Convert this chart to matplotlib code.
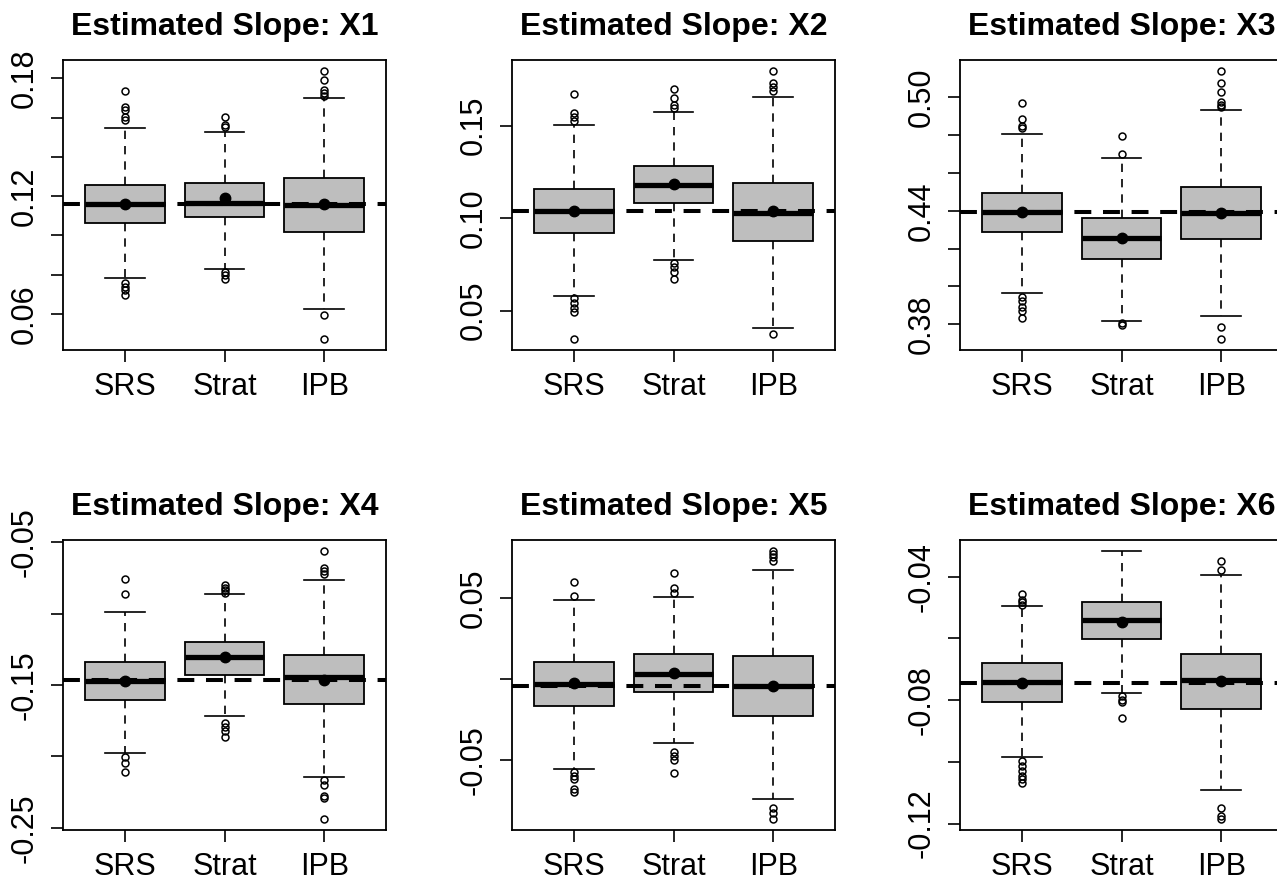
import numpy as np
import matplotlib
matplotlib.use("Agg")
import matplotlib.pyplot as plt

plt.rcParams['font.family'] = ['Liberation Sans', 'DejaVu Sans']

methods = ["SRS", "Strat", "IPB"]
titles = ["Estimated Slope: X1", "Estimated Slope: X2", "Estimated Slope: X3",
          "Estimated Slope: X4", "Estimated Slope: X5", "Estimated Slope: X6"]

# box summaries per panel, one value per method (SRS, Strat, IPB)
q1 = [[0.1063, 0.1095, 0.1016],
      [0.0922, 0.1080, 0.0875],
      [0.4285, 0.4144, 0.4248],
      [-0.1602, -0.1428, -0.1635],
      [-0.0167, -0.0083, -0.0228],
      [-0.0805, -0.0603, -0.0828]]
med = [[0.1160, 0.1167, 0.1155],
       [0.1039, 0.1179, 0.1030],
       [0.4392, 0.4255, 0.4390],
       [-0.1472, -0.1307, -0.1444],
       [-0.0034, 0.0028, -0.0044],
       [-0.0742, -0.0541, -0.0735]]
q3 = [[0.1257, 0.1269, 0.1291],
      [0.1156, 0.1284, 0.1192],
      [0.4496, 0.4360, 0.4526],
      [-0.1340, -0.1202, -0.1288],
      [0.0103, 0.0154, 0.0140],
      [-0.0680, -0.0482, -0.0649]]
whislo = [[0.0781, 0.0831, 0.0627],
          [0.0581, 0.0776, 0.0406],
          [0.3966, 0.3818, 0.3841],
          [-0.1977, -0.1719, -0.2142],
          [-0.0559, -0.0398, -0.0745],
          [-0.0985, -0.0776, -0.1090]]
whishi = [[0.1547, 0.1525, 0.1698],
          [0.1504, 0.1576, 0.1653],
          [0.4804, 0.4678, 0.4931],
          [-0.0988, -0.0865, -0.0765],
          [0.0486, 0.0506, 0.0674],
          [-0.0494, -0.0316, -0.0395]]
means = [[0.1160, 0.1189, 0.1160],
         [0.1039, 0.1185, 0.1039],
         [0.4392, 0.4255, 0.4390],
         [-0.1472, -0.1307, -0.1467],
         [-0.0026, 0.0038, -0.0044],
         [-0.0746, -0.0546, -0.0738]]
fliers = [
    [[0.1737, 0.1656, 0.1639, 0.1605, 0.1588, 0.0756, 0.0739, 0.0722, 0.0696],
     [0.1605, 0.1562, 0.1550, 0.0815, 0.0798, 0.0776],
     [0.1839, 0.1792, 0.1741, 0.1724, 0.1710, 0.0595, 0.0471]],
    [[0.1669, 0.1570, 0.1545, 0.1527, 0.0567, 0.0540, 0.0513, 0.0490, 0.0345],
     [0.1696, 0.1651, 0.1612, 0.1594, 0.0759, 0.0738, 0.0711, 0.0670],
     [0.1797, 0.1729, 0.1707, 0.1689, 0.0374]],
    [[0.4968, 0.4887, 0.4848, 0.4836, 0.3946, 0.3920, 0.3893, 0.3870, 0.3835],
     [0.4796, 0.4702, 0.3805, 0.3797],
     [0.5141, 0.5078, 0.5030, 0.4977, 0.4959, 0.4950, 0.3784, 0.3720]],
    [[-0.0758, -0.0863, -0.2002, -0.2044, -0.2109],
     [-0.0800, -0.0819, -0.0835, -0.0853, -0.1765, -0.1793, -0.1823, -0.1863],
     [-0.0560, -0.0684, -0.0700, -0.0723, -0.2165, -0.2202, -0.2277, -0.2288, -0.2440]],
    [[0.0598, 0.0514, -0.0578, -0.0598, -0.0618, -0.0684, -0.0700],
     [0.0655, 0.0563, 0.0529, -0.0455, -0.0480, -0.0500, -0.0582],
     [0.0792, 0.0772, 0.0752, 0.0731, -0.0797, -0.0827, -0.0868]],
    [[-0.0456, -0.0474, -0.0483, -0.0491, -0.0997, -0.1013, -0.1029, -0.1045, -0.1056, -0.1069],
     [-0.0787, -0.0798, -0.0806, -0.0857],
     [-0.0350, -0.0377, -0.1151, -0.1175, -0.1186]],
]
# true slope values (dashed reference)
truth = [0.1160, 0.1039, 0.4392, -0.1467, -0.0044, -0.0744]

yticks = [[0.06, 0.08, 0.10, 0.12, 0.14, 0.16, 0.18],
          [0.05, 0.10, 0.15],
          [0.38, 0.40, 0.42, 0.44, 0.46, 0.48, 0.50],
          [-0.25, -0.20, -0.15, -0.10, -0.05],
          [-0.05, 0.00, 0.05],
          [-0.12, -0.10, -0.08, -0.06, -0.04]]
ylabels = [["0.06", "", "", "0.12", "", "", "0.18"],
           ["0.05", "0.10", "0.15"],
           ["0.38", "", "", "0.44", "", "", "0.50"],
           ["-0.25", "", "-0.15", "", "-0.05"],
           ["-0.05", "", "0.05"],
           ["-0.12", "", "-0.08", "", "-0.04"]]

W, H = 1277, 882
fig = plt.figure(figsize=(W / 100, H / 100), dpi=100)

col_left = [63, 512, 960]
row_top = [60, 540]
ax_w, ax_h = 323, 290

for i in range(6):
    r, c = divmod(i, 3)
    ax = fig.add_axes([col_left[c] / W, 1 - (row_top[r] + ax_h) / H, ax_w / W, ax_h / H])

    stats = []
    for j in range(3):
        stats.append(dict(med=med[i][j], q1=q1[i][j], q3=q3[i][j],
                          whislo=whislo[i][j], whishi=whishi[i][j],
                          mean=means[i][j], fliers=fliers[i][j], label=methods[j]))

    ax.bxp(stats, positions=[1, 2, 3], widths=0.8, capwidths=0.4,
           patch_artist=True, showmeans=True,
           boxprops=dict(facecolor='#BEBEBE', edgecolor='black', linewidth=1.3),
           medianprops=dict(color='black', linewidth=3.8, solid_capstyle='butt'),
           whiskerprops=dict(color='black', linewidth=1.2, linestyle=(0, (5, 4.2))),
           capprops=dict(color='black', linewidth=1.2),
           flierprops=dict(marker='o', markerfacecolor='none', markeredgecolor='black',
                           markersize=5, markeredgewidth=1.1),
           meanprops=dict(marker='o', markerfacecolor='black', markeredgecolor='black',
                          markersize=7.5, zorder=6))

    ax.axhline(truth[i], color='black', linewidth=2.9, linestyle=(0, (4.2, 2.9)), zorder=5)

    # y range: data range padded by 4%
    allv = [v for j in range(3) for v in fliers[i][j] + [whislo[i][j], whishi[i][j]]]
    lo, hi = min(allv), max(allv)
    pad = 0.04 * (hi - lo)
    ax.set_ylim(lo - pad, hi + pad)
    ax.set_xlim(0.38, 3.62)

    ax.set_yticks(yticks[i])
    ax.set_yticklabels(ylabels[i])
    ax.set_xticks([1, 2, 3])
    ax.set_xticklabels(methods)
    ax.tick_params(axis='both', direction='out', length=8.6, width=1.2,
                   labelsize=22, colors='black')
    ax.tick_params(axis='y', labelrotation=90, pad=8)
    ax.tick_params(axis='x', pad=7)
    for lab in ax.get_yticklabels():
        lab.set_va('center')
    for s in ax.spines.values():
        s.set_linewidth(1.3)

    ax.set_title(titles[i], fontsize=23, fontweight='bold', pad=18)

fig.savefig("out.png", dpi=100)
